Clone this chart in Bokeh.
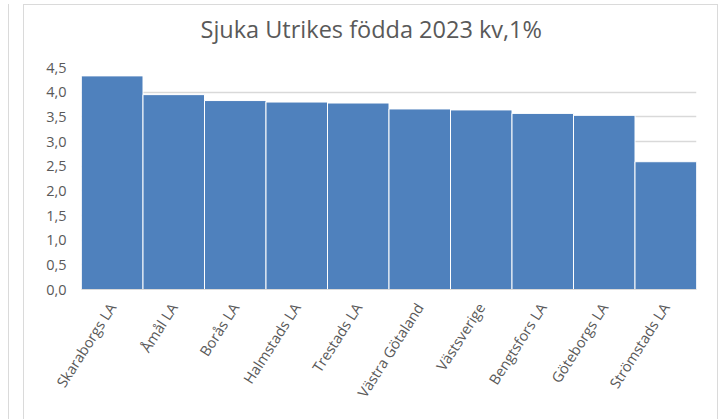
from bokeh.plotting import figure
from bokeh.models import Title, FixedTicker, CustomJSTickFormatter, FactorRange, Range1d
from bokeh.embed import file_html
from bokeh.resources import INLINE

title_text = "Sjuka Utrikes födda 2023 kv,1%"
categories = ["Skaraborgs LA", "Åmål LA", "Borås LA", "Halmstads LA", "Trestads LA",
              "Västra Götaland", "Västsverige", "Bengtsfors LA", "Göteborgs LA", "Strömstads LA"]
values = [4.33, 3.95, 3.83, 3.80, 3.78, 3.66, 3.64, 3.57, 3.53, 2.59]
y_ticks = [0, 0.5, 1.0, 1.5, 2.0, 2.5, 3.0, 3.5, 4.0, 4.5]

FONT = "Open Sans"
GREY = "#595959"

p = figure(x_range=FactorRange(*categories, range_padding=0), y_range=Range1d(0, 4.5),
           width=695, height=415, output_backend="svg", toolbar_location=None,
           min_border_left=57, min_border_right=23, min_border_top=62, min_border_bottom=131)
p.styles = {"margin-left": "23px", "margin-top": "4px",
            "border-top": "1px solid #dadada",
            "border-left": "1px solid #dadada", "border-right": "1px solid #dadada",
            "box-shadow": "-14px 0 0 0 white, -15px 0 0 0 #dadada"}

p.vbar(x=categories, top=values, width=1.0, fill_color="#4F81BD", line_color="white", line_width=1)

p.outline_line_color = None
p.xgrid.grid_line_color = None
p.ygrid.grid_line_color = "#d9d9d9"
p.ygrid.grid_line_width = 1.5

p.yaxis.ticker = FixedTicker(ticks=y_ticks)
p.yaxis.formatter = CustomJSTickFormatter(code="return tick.toFixed(1).replace('.', ',');")
p.yaxis.axis_line_color = None
p.yaxis.major_tick_line_color = None
p.yaxis.minor_tick_line_color = None
p.yaxis.major_tick_out = 0
p.yaxis.major_label_standoff = 15
p.yaxis.major_label_text_font = FONT
p.yaxis.major_label_text_font_size = "14.5px"
p.yaxis.major_label_text_color = GREY

p.xaxis.axis_line_color = "#d9d9d9"
p.xaxis.major_tick_line_color = None
p.xaxis.major_tick_out = 0
p.xaxis.major_label_standoff = 15
p.xaxis.major_label_orientation = 1.0
p.xaxis.major_label_text_font = FONT
p.xaxis.major_label_text_font_size = "14.5px"
p.xaxis.major_label_text_color = GREY

# invisible spacer between the frame and the title
p.add_layout(Title(text=" ", standoff=0, text_font=FONT, text_font_size="14px",
                   text_color="white"), "above")
p.add_layout(Title(text=title_text, align="left", offset=119, standoff=0,
                   vertical_align="top",
                   text_font=FONT, text_font_size="23.5px", text_font_style="normal",
                   text_color=GREY), "above")

open("out.html", "w").write(file_html(p, INLINE))
